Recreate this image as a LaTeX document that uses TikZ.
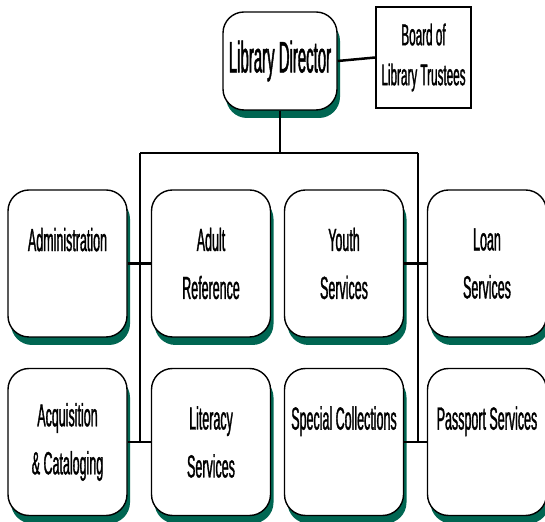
\documentclass[tikz,border=0pt]{standalone}
\usepackage{fontspec}
\setmainfont{Liberation Sans}[FakeStretch=0.39,FakeBold=1]
\newfontfamily\dirfont{Liberation Sans}[FakeStretch=0.34,FakeBold=1]
\usepackage{xcolor}
\usetikzlibrary{positioning,shadows}
\definecolor{shadowteal}{RGB}{0,102,82}

\begin{document}
\begin{tikzpicture}[x=1pt,y=1pt,
  unit/.style={draw,line width=1.4pt,rounded corners=21pt,fill=white,
    minimum width=119pt,minimum height=147pt,inner sep=0pt,align=center,
    font=\fontsize{32}{48}\selectfont,
    drop shadow={shadow xshift=3pt,shadow yshift=-8pt,fill=shadowteal,opacity=1}},
  bus/.style={line width=2.5pt},
  tie/.style={line width=1.2pt}]
\useasboundingbox (0,0) rectangle (545,521);
% top of the chart
\node[unit,minimum width=114pt,minimum height=98pt,font=\dirfont\fontsize{44}{50}\selectfont] (director) at (280,460) {Library Director};
\node[draw,line width=1.4pt,minimum width=95pt,minimum height=101pt,inner sep=0pt,align=center,
  font=\fontsize{30}{40}\selectfont] (board) at (423.5,463.5) {Board of\\Library Trustees};
% first row
\node[unit] (admin) at (67.5,257.5) {Administration\\~};
\node[unit] (adultref) at (211,257.5) {Adult\\Reference};
\node[unit] (youth) at (344,257.5) {Youth\\Services};
\node[unit] (loan) at (487,257.5) {Loan\\Services};
% second row
\node[unit] (acq) at (67.5,79) {Acquisition\\\& Cataloging};
\node[unit] (literacy) at (211,79) {Literacy\\Services};
\node[unit] (special) at (344,79) {Special Collections\\~};
\node[unit] (passport) at (487,79) {Passport Services\\~};
% connectors
\coordinate (busL) at (140,368); \coordinate (busR) at (418,368);
\draw[bus] (director.east)--(board.west);
\draw[tie] (director.south)--(director.south |- busL);
\draw[bus] (busL)--(busR);
\draw[tie] (busL)--(busL |- acq.east);
\draw[tie] (busR)--(busR |- special.east);
\draw[bus] (admin.east)--(adultref.west);
\draw[bus] (youth.east)--(loan.west);
\draw[bus] (acq.east)--(literacy.west);
\draw[bus] (special.east)--(passport.west);
\end{tikzpicture}
\end{document}
